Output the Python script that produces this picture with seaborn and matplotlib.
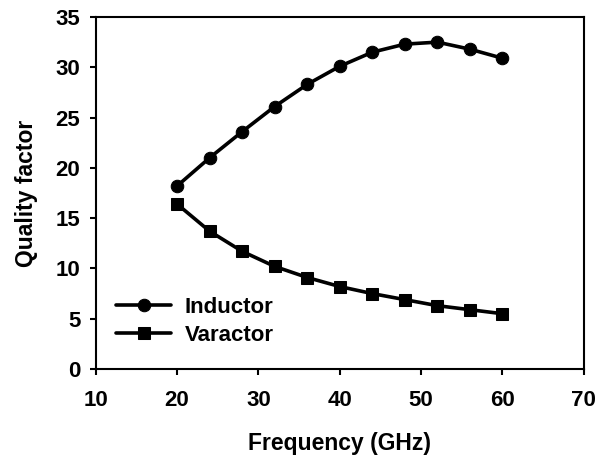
import matplotlib
matplotlib.use('Agg')
import matplotlib.pyplot as plt
import seaborn as sns
import pandas as pd

freq = [20, 24, 28, 32, 36, 40, 44, 48, 52, 56, 60]
inductor_q = [18.2, 21.0, 23.6, 26.1, 28.3, 30.1, 31.5, 32.3, 32.5, 31.8, 30.9]
varactor_q = [16.4, 13.7, 11.7, 10.2, 9.1, 8.2, 7.5, 6.9, 6.3, 5.9, 5.5]

df = pd.DataFrame({'Frequency': freq + freq,
                   'Q': inductor_q + varactor_q,
                   'Device': ['Inductor'] * len(freq) + ['Varactor'] * len(freq)})

sns.set_style('ticks')
plt.rcParams['font.family'] = ['Liberation Sans', 'DejaVu Sans']
plt.rcParams['font.weight'] = 'bold'
plt.rcParams['text.color'] = 'black'
plt.rcParams['axes.labelcolor'] = 'black'

fig = plt.figure(figsize=(6.1, 4.59), dpi=100)
ax = fig.add_axes([0.157, 0.196, 0.8, 0.767])

sns.lineplot(data=df, x='Frequency', y='Q', hue='Device', style='Device',
             markers={'Inductor': 'o', 'Varactor': 's'}, dashes=False,
             palette={'Inductor': 'black', 'Varactor': 'black'},
             linewidth=2.6, markersize=9, markeredgecolor='black', ax=ax)

ax.set_xlim(10, 70)
ax.set_ylim(0, 35)
ax.set_xticks(range(10, 71, 10))
ax.set_yticks(range(0, 36, 5))
ax.tick_params(labelsize=16, width=1.5, length=4, colors='black')
ax.tick_params(axis='x', pad=11)
ax.tick_params(axis='y', pad=7)
for s in ax.spines.values():
    s.set_linewidth(1.5)
    s.set_color('black')
ax.set_xlabel('Frequency (GHz)', fontsize=16.5, fontweight='bold', labelpad=15)
ax.set_ylabel('Quality factor', fontsize=16.5, fontweight='bold', labelpad=13)

leg = ax.legend(loc='lower left', bbox_to_anchor=(0.0, 0.01), frameon=False,
                fontsize=16, handlelength=2.5, handletextpad=0.6, labelspacing=0.3)
for t in leg.get_texts():
    t.set_fontweight('bold')

fig.savefig('out.png', dpi=100)
